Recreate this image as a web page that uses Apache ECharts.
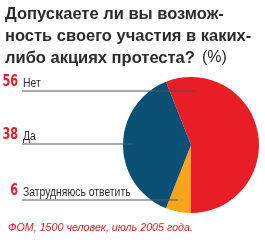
<!DOCTYPE html>
<html>
<head>
<meta charset="utf-8">
<script src="https://cdn.jsdelivr.net/npm/echarts@6/dist/echarts.min.js"></script>
<style>
html,body{margin:0;padding:0;background:#fff;}
#chart{width:265px;height:243px;}
</style>
</head>
<body>
<div id="chart"></div>
<script>
var categories = ['Нет', 'Затрудняюсь ответить', 'Да'];
var values = [56, 6, 38];
var colors = ['#e81d25', '#f6a51c', '#0b5176'];

// порядок подписей слева (сверху вниз)
var labelOrder = [0, 2, 1];
var labelY = [91, 144, 200];
var lineEnd = [195, 133, 178];

var myChart = echarts.init(document.getElementById('chart'));

var graphics = [
	{
		type: 'text', left: 5, top: 3,
		style: {
			text: 'Допускаете ли вы возмож-\nность своего участия в каких-\nлибо акциях протеста?',
			font: 'bold 16.5px "Liberation Sans", Arial, sans-serif',
			fill: '#2b2b2b', lineHeight: 22
		}
	},
	{
		type: 'text', left: 202, top: 50,
		style: { text: '(%)', font: '16px "Liberation Sans", Arial, sans-serif', fill: '#2b2b2b' }
	},
	{
		type: 'text', z: 10,
		x: 8, y: 234, scaleX: 0.93,
		style: {
			x: 0, y: 0,
			text: 'ФОМ, 1500 человек, июль 2005 года.',
			font: 'italic 11.5px "Liberation Sans", Arial, sans-serif',
			fill: '#e81d25', verticalAlign: 'bottom'
		}
	}
];

labelOrder.forEach(function (idx, i) {
	var y = labelY[i];
	graphics.push({
		type: 'line', z: 10,
		shape: { x1: 22, y1: y, x2: lineEnd[i], y2: y },
		style: { stroke: '#555', lineWidth: 1 }
	});
	graphics.push({
		type: 'text', z: 10,
		x: 18, y: y - 1, scaleX: 0.78,
		style: {
			x: 0, y: 0, text: String(values[idx]),
			font: 'bold 16px "DejaVu Sans Condensed", sans-serif',
			fill: '#e81d25', align: 'right', verticalAlign: 'bottom'
		}
	});
	graphics.push({
		type: 'text', z: 10,
		x: 23, y: y - 1, scaleX: 0.83,
		style: {
			x: 0, y: 0, text: categories[idx],
			font: '12.5px "Liberation Sans", Arial, sans-serif',
			fill: '#2b2b2b', align: 'left', verticalAlign: 'bottom'
		}
	});
});

var option = {
	animation: false,
	graphic: graphics,
	series: [
		{
			type: 'pie',
			center: [191, 145],
			radius: 68,
			startAngle: 111.6,
			clockwise: true,
			label: { show: false },
			labelLine: { show: false },
			itemStyle: { borderWidth: 0 },
			data: categories.map(function (c, i) {
				return { name: c, value: values[i], itemStyle: { color: colors[i] } };
			})
		}
	]
};

myChart.setOption(option);
</script>
</body>
</html>
